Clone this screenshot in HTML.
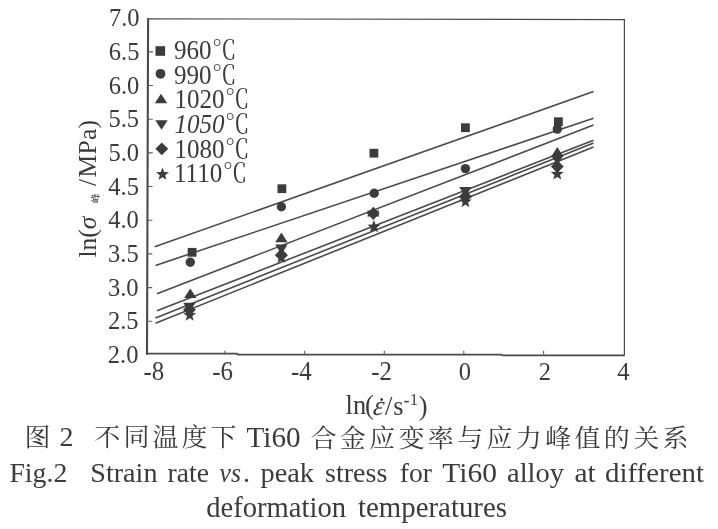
<!DOCTYPE html>
<html lang="zh"><head><meta charset="utf-8"><title>Fig.2</title>
<style>
html,body{margin:0;padding:0;background:#fff;}
body{width:718px;height:529px;overflow:hidden;}
svg{display:block;filter:blur(0.45px);}
text{font-family:"Liberation Serif","Noto Serif CJK SC",serif;fill:#3b3b3b;}
.cj{font-family:"Liberation Serif","Noto Serif CJK SC",serif;font-weight:400;}
.ax{stroke:#4a4a4a;stroke-width:1.5;fill:none;}
.ln{stroke:#4a4a4a;stroke-width:1.6;fill:none;}
.mk{fill:#3c3c3c;stroke:none;}
</style></head><body>
<svg width="718" height="529" viewBox="0 0 718 529">
<rect width="718" height="529" fill="#fff"/>

<path class="ax" style="stroke-width:2.1" d="M148.1 18.2L147.0 354.8"/>
<path class="ax" style="stroke-width:1.7" d="M146.7 353.7H237L238 354.7H501L502.5 355.3H624.9"/>
<path class="ax" style="stroke-width:1.2" d="M147.4 18.8L624.4 19.6V354.8"/>
<path class="ax" style="stroke-width:1.1;stroke:#606060" d="M147.1 321.2h5 M147.2 287.6h5 M147.3 253.9h5 M147.4 220.2h5 M147.6 186.5h5 M147.7 152.9h5 M147.8 119.2h5 M147.9 85.5h5 M148.0 51.9h5 M224.8 354.5v-3.8 M304.7 354.5v-3.8 M384.3 354.5v-3.8 M463.8 354.5v-3.8 M543.6 354.5v-3.8"/>
<text transform="translate(138.4 362.9) scale(0.943 1)" font-size="26" text-anchor="end">2.0</text>
<text transform="translate(138.5 329.2) scale(0.943 1)" font-size="26" text-anchor="end">2.5</text>
<text transform="translate(138.6 295.6) scale(0.943 1)" font-size="26" text-anchor="end">3.0</text>
<text transform="translate(138.7 261.9) scale(0.943 1)" font-size="26" text-anchor="end">3.5</text>
<text transform="translate(138.8 228.2) scale(0.943 1)" font-size="26" text-anchor="end">4.0</text>
<text transform="translate(138.9 194.5) scale(0.943 1)" font-size="26" text-anchor="end">4.5</text>
<text transform="translate(139.0 160.9) scale(0.943 1)" font-size="26" text-anchor="end">5.0</text>
<text transform="translate(139.1 127.2) scale(0.943 1)" font-size="26" text-anchor="end">5.5</text>
<text transform="translate(139.3 93.5) scale(0.943 1)" font-size="26" text-anchor="end">6.0</text>
<text transform="translate(139.4 59.9) scale(0.943 1)" font-size="26" text-anchor="end">6.5</text>
<text transform="translate(139.5 26.2) scale(0.943 1)" font-size="26" text-anchor="end">7.0</text>
<text transform="translate(164.3 380.2) scale(0.943 1)" font-size="26.4" text-anchor="end">-8</text>
<text transform="translate(233 380.2) scale(0.943 1)" font-size="26.4" text-anchor="end">-6</text>
<text transform="translate(311.8 380.2) scale(0.943 1)" font-size="26.4" text-anchor="end">-4</text>
<text transform="translate(392 380.2) scale(0.943 1)" font-size="26.4" text-anchor="end">-2</text>
<text transform="translate(464.9 380) scale(0.943 1)" font-size="26" text-anchor="middle">0</text>
<text transform="translate(544.9 380) scale(0.943 1)" font-size="26" text-anchor="middle">2</text>
<text transform="translate(623.4 380) scale(0.943 1)" font-size="26" text-anchor="middle">4</text>
<path class="ln" d="M154.7 246.8L593.5 91.6"/>
<path class="ln" d="M155.5 265.4L593.5 118.3"/>
<path class="ln" d="M157 293.7L593.5 125.1"/>
<path class="ln" d="M157 310.7L593.5 140.3"/>
<path class="ln" d="M155.5 318L593.5 143"/>
<path class="ln" d="M155.5 323.2L593.5 147.1"/>
<rect class="mk" x="187.7" y="247.9" width="8.8" height="8.8"/>
<rect class="mk" x="277.5" y="184.3" width="8.8" height="8.8"/>
<rect class="mk" x="369.5" y="148.8" width="8.8" height="8.8"/>
<rect class="mk" x="461.0" y="123.3" width="8.8" height="8.8"/>
<rect class="mk" x="554.0" y="117.3" width="8.8" height="8.8"/>
<circle class="mk" cx="190.3" cy="262.3" r="4.7"/>
<circle class="mk" cx="281.4" cy="206.7" r="4.7"/>
<circle class="mk" cx="374.2" cy="193.3" r="4.7"/>
<circle class="mk" cx="465.4" cy="168.6" r="4.7"/>
<circle class="mk" cx="557.3" cy="129.1" r="4.7"/>
<path class="mk" d="M190.3 288.5L196.5 298.1H184.1Z"/>
<path class="mk" d="M281.4 232.6L287.6 242.2H275.2Z"/>
<path class="mk" d="M373.3 206.8L379.5 216.4H367.1Z"/>
<path class="mk" d="M465.4 188.1L471.6 197.7H459.2Z"/>
<path class="mk" d="M557.3 147.1L563.5 156.7H551.1Z"/>
<path class="mk" d="M189.4 312.4L195.6 302.8H183.2Z"/>
<path class="mk" d="M281.4 254.2L287.6 244.6H275.2Z"/>
<path class="mk" d="M373.3 220.0L379.5 210.4H367.1Z"/>
<path class="mk" d="M465.4 196.6L471.6 187.0H459.2Z"/>
<path class="mk" d="M557.3 165.1L563.5 155.5H551.1Z"/>
<path class="mk" d="M189.4 303.4L195.8 309.8L189.4 316.2L183.0 309.8Z"/>
<path class="mk" d="M281.4 248.5L287.8 254.9L281.4 261.3L275.0 254.9Z"/>
<path class="mk" d="M373.3 207.0L379.7 213.4L373.3 219.8L366.9 213.4Z"/>
<path class="mk" d="M465.4 190.3L471.8 196.7L465.4 203.1L459.0 196.7Z"/>
<path class="mk" d="M557.3 160.2L563.7 166.6L557.3 173.0L550.9 166.6Z"/>
<path class="mk" d="M189.7 308.4 L191.4 312.9 L196.2 313.1 L192.4 316.1 L193.7 320.7 L189.7 318.0 L185.7 320.7 L187.0 316.1 L183.2 313.1 L188.0 312.9Z"/>
<path class="mk" d="M281.4 250.8 L283.1 255.3 L287.9 255.5 L284.1 258.5 L285.4 263.1 L281.4 260.5 L277.4 263.1 L278.7 258.5 L275.0 255.5 L279.7 255.3Z"/>
<path class="mk" d="M373.9 220.0 L375.6 224.5 L380.4 224.7 L376.6 227.7 L377.9 232.3 L373.9 229.7 L369.9 232.3 L371.2 227.7 L367.4 224.7 L372.2 224.5Z"/>
<path class="mk" d="M465.4 194.9 L467.1 199.4 L471.9 199.6 L468.1 202.6 L469.4 207.2 L465.4 204.6 L461.4 207.2 L462.7 202.6 L459.0 199.6 L463.8 199.4Z"/>
<path class="mk" d="M557.3 167.3 L558.9 171.8 L563.7 172.0 L560.0 174.9 L561.3 179.6 L557.3 176.9 L553.3 179.6 L554.5 174.9 L550.8 172.0 L555.6 171.8Z"/>
<rect class="mk" x="155.5" y="46.2" width="9.6" height="9.6"/>
<text transform="translate(174 59.4) scale(0.943 1)" font-size="26.6"><tspan>960</tspan><tspan class="cj" dx="0.5" font-size="26">℃</tspan></text>
<circle class="mk" cx="160.5" cy="73.8" r="4.9"/>
<text transform="translate(174 83.6) scale(0.943 1)" font-size="26.6"><tspan>990</tspan><tspan class="cj" dx="0.5" font-size="26">℃</tspan></text>
<path class="mk" d="M161.0 93.7L167.2 103.3H154.8Z"/>
<text transform="translate(174.5 108.3) scale(0.943 1)" font-size="26.6"><tspan>1020</tspan><tspan class="cj" dx="0.5" font-size="26">℃</tspan></text>
<path class="mk" d="M161.5 129.8L167.7 120.2H155.3Z"/>
<text transform="translate(174.5 132.6) scale(0.943 1)" font-size="26.6"><tspan font-style="italic">1050</tspan><tspan class="cj" dx="0.5" font-size="26">℃</tspan></text>
<path class="mk" d="M161.8 142.4L168.2 148.8L161.8 155.2L155.4 148.8Z"/>
<text transform="translate(174.5 157.5) scale(0.943 1)" font-size="26.6"><tspan>1080</tspan><tspan class="cj" dx="0.5" font-size="26">℃</tspan></text>
<path class="mk" d="M162.5 167.5 L164.2 172.0 L169.0 172.2 L165.2 175.2 L166.5 179.8 L162.5 177.2 L158.5 179.8 L159.8 175.2 L156.0 172.2 L160.8 172.0Z"/>
<text transform="translate(174 182.3) scale(0.943 1)" font-size="26.6"><tspan>1110</tspan><tspan class="cj" dx="0.5" font-size="26">℃</tspan></text>
<text transform="translate(96.3 257.5) rotate(-90)" font-size="25.5">ln(<tspan font-style="italic">σ</tspan><tspan class="cj" font-size="9.5" x="54.5" y="2.8" style="font-weight:600">峰</tspan><tspan x="71.5" y="0">/</tspan><tspan x="80" y="0" letter-spacing="0.3">MPa)</tspan></text>
<text x="345.6" y="414.3" font-size="26.4">ln<tspan x="364.9">(</tspan><tspan x="377.2" y="416">˙</tspan><tspan x="385.1" y="414.5">/</tspan><tspan x="393.2">s</tspan><tspan font-size="18" x="403.6" y="405.6">-</tspan><tspan font-size="16" x="409.9" y="405">1</tspan><tspan x="418.8" y="414.5">)</tspan></text>
<text transform="translate(372.2 414.5) skewX(-10) scale(0.95 1)" font-size="28" font-style="italic">ε</text>
<text class="cj" transform="translate(24.5 445.6) scale(1 0.95)" font-size="26">图</text>
<text x="59.5" y="446" font-size="28">2</text>
<text class="cj" transform="translate(94.3 445.9) scale(1 0.95)" font-size="26" textLength="142.3" lengthAdjust="spacing">不同温度下</text>
<text x="246.6" y="447" font-size="28.5" textLength="54" lengthAdjust="spacingAndGlyphs">Ti60</text>
<text class="cj" transform="translate(310.5 446.5) scale(1 0.95)" font-size="26" textLength="378" lengthAdjust="spacing">合金应变率与应力峰值的关系</text>
<text y="481.5" font-size="28.2"><tspan x="9.4" textLength="57.9" lengthAdjust="spacingAndGlyphs">Fig.2</tspan> <tspan x="90.3" textLength="67.2" lengthAdjust="spacingAndGlyphs">Strain</tspan> <tspan x="167.6" textLength="41.4" lengthAdjust="spacingAndGlyphs">rate</tspan> <tspan x="219.5" textLength="21.5" lengthAdjust="spacingAndGlyphs" font-style="italic">vs</tspan><tspan x="243" textLength="7.0" lengthAdjust="spacingAndGlyphs">.</tspan> <tspan x="260.5" textLength="53.5" lengthAdjust="spacingAndGlyphs">peak</tspan> <tspan x="325" textLength="62.3" lengthAdjust="spacingAndGlyphs">stress</tspan> <tspan x="399.8" textLength="32.2" lengthAdjust="spacingAndGlyphs">for</tspan> <tspan x="442.3" textLength="54.7" lengthAdjust="spacingAndGlyphs">Ti60</tspan> <tspan x="507" textLength="57.0" lengthAdjust="spacingAndGlyphs">alloy</tspan> <tspan x="574.5" textLength="21.3" lengthAdjust="spacingAndGlyphs">at</tspan> <tspan x="605" textLength="99.0" lengthAdjust="spacingAndGlyphs">different</tspan></text>
<text y="516.8" font-size="28.7"><tspan x="206.2" textLength="139.8" lengthAdjust="spacingAndGlyphs">deformation</tspan> <tspan x="358" textLength="149.0" lengthAdjust="spacingAndGlyphs">temperatures</tspan></text>
</svg></body></html>
